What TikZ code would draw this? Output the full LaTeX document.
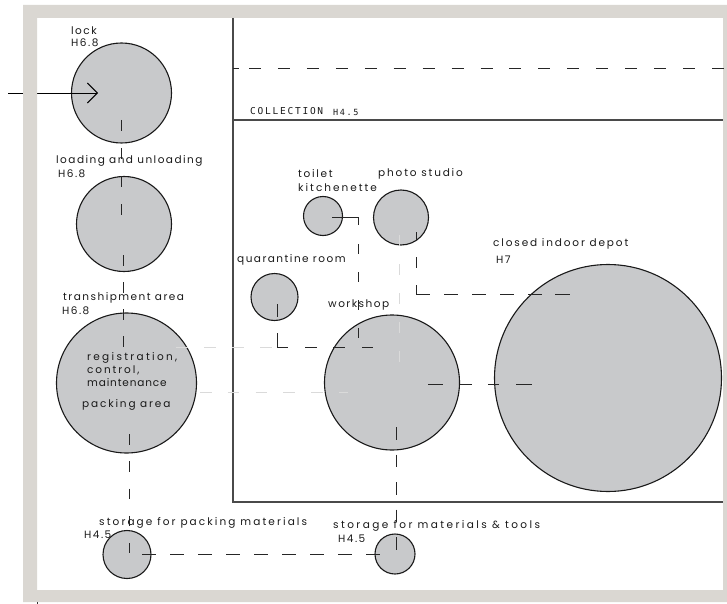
\documentclass[tikz,border=0pt]{standalone}
\usepackage{fontspec}
\setmainfont{Poppins}
\newfontfamily\lblfont[LetterSpace=14]{Poppins}
\newfontfamily\capfont[LetterSpace=18.5]{DejaVu Sans Mono}
\usetikzlibrary{arrows.meta,calc}
\definecolor{framegray}{HTML}{DAD7D2}
\definecolor{roomfill}{HTML}{C8C9CB}
\definecolor{boxline}{HTML}{4A4A4A}
\definecolor{faintline}{HTML}{DADADA}
\begin{document}
\begin{tikzpicture}[x=1pt,y=-1pt,
  room/.style={circle, draw=black!90, fill=roomfill, line width=1.1pt, inner sep=0pt},
  lbl/.style={anchor=base west, inner sep=0pt, font=\lblfont\fontsize{10.5}{12}\selectfont, text=black!90},
  lsp/.style={lbl, font=\lblfont\fontsize{10.5}{12}\selectfont\addfontfeatures{LetterSpace=#1}},
  caplbl/.style={anchor=base west, inner sep=0pt, font=\capfont\fontsize{9.5}{10}\selectfont, text=black!90},
  conn/.style={draw=black!85, line width=0.9pt},
  faint/.style={draw=faintline, line width=1pt},
  boxl/.style={draw=boxline, line width=1.1pt}]
\useasboundingbox (0,0) rectangle (727,604);
% rooms
\node[room, minimum size=100pt] (lock) at (121.5,93) {};
\node[room, minimum size=95pt] (loading) at (124,224) {};
\node[room, minimum size=140pt] (tranship) at (126.5,383) {};
\node[room, minimum size=47pt] (quarantine) at (274.5,297) {};
\node[room, minimum size=39pt] (toilet) at (323,216) {};
\node[room, minimum size=55pt] (photo) at (401,217.5) {};
\node[room, minimum size=135pt] (workshop) at (392,382.5) {};
\node[room, minimum size=227pt] (depot) at (608,378) {};
\node[room, minimum size=48pt] (storpack) at (127,554.5) {};
\node[room, minimum size=40pt] (stortools) at (395,554) {};
% entry arrow (under the frame)
\coordinate (entry) at (8,93);
\draw[line width=0.9pt, -{Straight Barb[length=10pt,width=20pt,line width=0.9pt]}] (entry) -- ($(lock.center)+(-23.5,0)$);
% frame
\fill[framegray, even odd rule] (23,5) rectangle (727,602) (37,18) rectangle (723,590);
\draw[black!80, line width=0.8pt] (37,602) -- (37,604);
% collection box
\draw[boxl] (233,18) -- (233,502) -- (723,502);
\draw[boxl] (233,120) -- (723,120);
\draw[conn] (233,68) -- (239,68);
\draw[conn, dash pattern=on 12pt off 16.94pt] (249,68) -- (724,68);
% faint dashed lines
\draw[faint, dash pattern=on 12pt off 16pt] ($(tranship.center)+(49.5,-36)$) -- ($(quarantine.center)+(-2.5,50)$);
\draw[faint, dash pattern=on 11.5pt off 16.3pt] ($(tranship.center)+(73.5,9)$) -- ($(workshop.center)+(-44,9.5)$);
\draw[faint, dash pattern=on 11pt off 18pt] ($(photo.center)+(-2,17.5)$) -- ($(workshop.center)+(7,-19.5)$);
% black connectors
\draw[conn, dash pattern=on 11pt off 17pt] ($(lock.center)+(-0.5,27)$) -- ($(lock.center)+(-0.5,123)$);
\draw[conn, dash pattern=on 11pt off 16pt] ($(loading.center)+(-1,31)$) -- ($(loading.center)+(-1,124)$);
\draw[conn, dash pattern=on 10.5pt off 16.8pt] ($(tranship.center)+(2.5,51)$) -- ($(storpack.center)+(2,-1.5)$);
\draw[conn, dash pattern=on 14pt off 14pt] ($(storpack.center)+(15,-0.5)$) -- ($(stortools.center)+(-15,0)$);
\draw[conn, dash pattern=on 12.5pt off 15pt] ($(workshop.center)+(4,44.5)$) -- ($(stortools.center)+(1,-2)$);
\coordinate (toiletbend) at (358,217);
\draw[conn, dash pattern=on 34pt off 19pt on 10pt off 18pt on 10pt off 18pt on 10pt off 18pt on 10pt off 60pt]
  ($(toilet.center)+(9,1)$) -- (toiletbend) -- ($(workshop.center)+(-34,-44.5)$);
\coordinate (photobend) at (416,294);
\draw[conn, dash pattern=on 8pt off 17pt on 11pt off 17pt on 23pt off 14pt on 14pt off 14pt on 14pt off 14pt on 14pt off 14pt on 14pt off 13pt on 15pt off 60pt]
  ($(photo.center)+(15,14.5)$) -- (photobend) -- ($(depot.center)+(-35,-84)$);
\coordinate (quarbend) at (277,347);
\draw[conn, dash pattern=on 13pt off 16pt on 25pt off 17pt on 12pt off 16pt on 12pt off 17pt on 11pt off 60pt]
  ($(quarantine.center)+(2.5,7)$) -- (quarbend) -- ($(workshop.center)+(-19,-35.5)$);
\draw[conn, dash pattern=on 15pt off 17pt on 12pt off 16pt on 11pt off 17pt on 16pt off 60pt]
  ($(workshop.center)+(36,1.5)$) -- ($(depot.center)+(-76,6)$);
% labels
\node[lbl] (tlock) at (71,35) {lock};
\node[lbl] (hlock) at (71,47) {H6.8};
\node[lbl] (tload) at (56,164) {loading and unloading};
\node[lbl] (hload) at (58,178) {H6.8};
\node[lbl] (ttrans) at (63,300.5) {transhipment area};
\node[lbl] (htrans) at (62,314) {H6.8};
\node[lsp=22] (treg) at (87,360) {registration,};
\node[lsp=18] (tcon) at (87,373) {control,};
\node[lsp=8] (tmain) at (87,386) {maintenance};
\node[lsp=17.5] (tpack) at (82,407.5) {packing area};
\node[lbl] (tquar) at (237,262) {quarantine room};
\node[lsp=16] (ttoil) at (298,177.5) {toilet};
\node[lsp=19] (tkit) at (298,191.5) {kitchenette};
\node[lsp=17.5] (tphoto) at (378,176) {photo studio};
\node[lsp=17.7] (tdepot) at (493,246.5) {closed indoor depot};
\node[lbl] (hdepot) at (496,263) {H7};
\node[lbl] (twork) at (328,307) {workshop};
\node[lsp=20] (tspack) at (99,525) {storage for packing materials};
\node[lbl] (hspack) at (84,538) {H4.5};
\node[lsp=23] (tstool) at (333,528.5) {storage for materials \& tools};
\node[lbl] (hstool) at (338,542) {H4.5};
\node[caplbl] (tcoll) at (250,115) {COLLECTION};
\node[caplbl, font=\capfont\fontsize{8.5}{9}\selectfont] (hcoll) at (333,116) {H4.5};
\end{tikzpicture}
\end{document}
